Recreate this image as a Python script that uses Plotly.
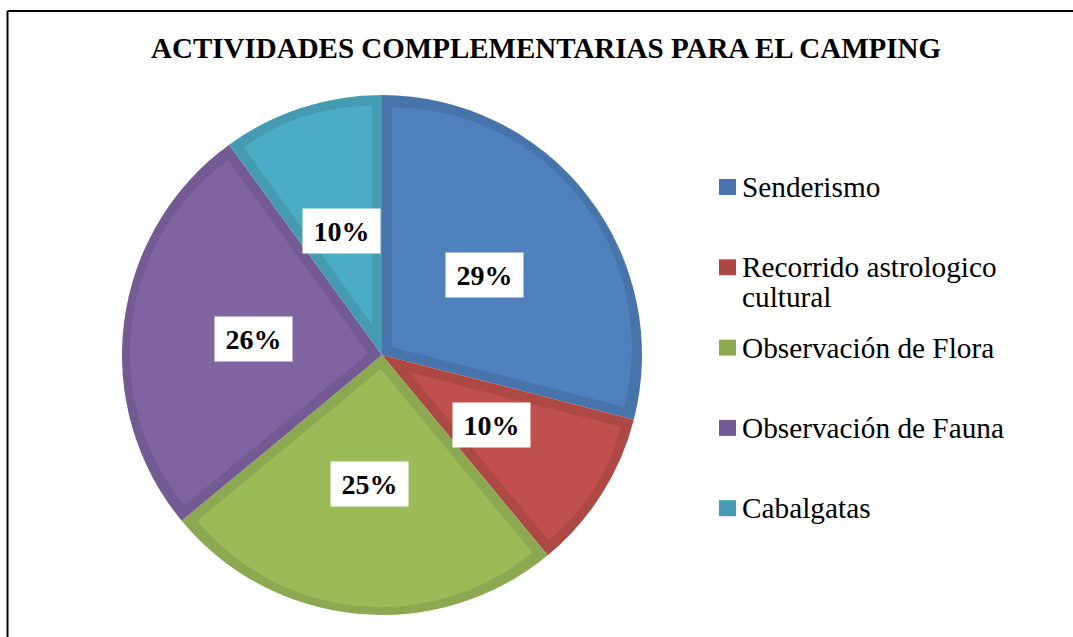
import math
import textwrap
import plotly.graph_objects as go

# data
labels = ["Senderismo", "Recorrido astrologico cultural", "Observación de Flora",
          "Observación de Fauna", "Cabalgatas"]
values = [29, 10, 25, 26, 10]
colors = ["#4F81BD", "#C0504D", "#9BBB59", "#8064A2", "#4BACC6"]
edge_colors = ["#4774AA", "#AD4845", "#8CA850", "#735A92", "#449BB2"]
title_text = "ACTIVIDADES COMPLEMENTARIAS PARA EL CAMPING"

# page geometry (pixels)
W, H = 1073, 637
CX, CY, R = 382, 355, 260
BAND = 10
FONT = "Liberation Serif, Times New Roman, serif"


def px_x(x):
    return x / W


def px_y(y):
    return 1 - y / H


def pie_domain(cx, cy, r):
    return dict(x=[px_x(cx - r), px_x(cx + r)], y=[px_y(cy + r), px_y(cy - r)])


fig = go.Figure()

# full pie in the darker edge shade
fig.add_trace(go.Pie(
    labels=labels,
    values=values,
    sort=False,
    direction="clockwise",
    rotation=0,
    marker=dict(colors=edge_colors, line=dict(width=0)),
    textinfo="none",
    hoverinfo="label+percent",
    showlegend=False,
    domain=pie_domain(CX, CY, R),
))

# lighter inner part of each slice, inset so the darker band shows round it
total = sum(values)
start = 0
annotations = []
for i, v in enumerate(values):
    a0 = start / total * 2 * math.pi
    a1 = (start + v) / total * 2 * math.pi
    half = (a1 - a0) / 2
    mid = (a0 + a1) / 2
    s = BAND / math.sin(half)
    ax = CX + s * math.sin(mid)
    ay = CY - s * math.cos(mid)
    rr = R - BAND
    d_mid = rr - s
    d_side = math.sqrt(rr ** 2 + s ** 2 - 2 * rr * s * math.cos(half))
    r_in = (d_mid + d_side) / 2
    fig.add_trace(go.Pie(
        labels=[labels[i], labels[i] + " resto"],
        values=[v, total - v],
        sort=False,
        direction="clockwise",
        rotation=math.degrees(a0),
        marker=dict(colors=[colors[i], "rgba(0,0,0,0)"], line=dict(width=0)),
        textinfo="none",
        hoverinfo="skip",
        showlegend=False,
        domain=pie_domain(ax, ay, r_in),
    ))

    # percentage label in a white box
    annotations.append(dict(
        x=px_x(CX + 0.5 * R * math.sin(mid)),
        y=px_y(CY - 0.5 * R * math.cos(mid)),
        xref="paper", yref="paper",
        text=f"<b>{v / total * 100:.0f}%</b>",
        showarrow=False,
        font=dict(family=FONT, size=28, color="black"),
        bgcolor="white",
        width=75, height=42,
        xanchor="center", yanchor="middle",
    ))
    start += v

# legend drawn by hand
shapes = []
legend_top = 187
legend_step = 80.3
for i, lab in enumerate(labels):
    yc = legend_top + i * legend_step
    shapes.append(dict(
        type="rect", xref="paper", yref="paper",
        x0=px_x(719), x1=px_x(736), y0=px_y(yc + 8), y1=px_y(yc - 8),
        fillcolor=edge_colors[i], line=dict(width=0),
    ))
    for j, line in enumerate(textwrap.wrap(lab, 22)):
        annotations.append(dict(
            x=px_x(740), y=px_y(yc + j * 30),
            xref="paper", yref="paper",
            text=line, showarrow=False,
            font=dict(family=FONT, size=29.3, color="black"),
            xanchor="left", yanchor="middle",
        ))

# title
annotations.append(dict(
    x=px_x(546), y=px_y(48), xref="paper", yref="paper",
    text=f"<b>{title_text}</b>", showarrow=False,
    font=dict(family=FONT, size=29, color="black"),
    xanchor="center", yanchor="middle",
))

# frame (top and left edges visible)
shapes.append(dict(type="line", xref="paper", yref="paper",
                   x0=px_x(7.5), x1=1, y0=px_y(11), y1=px_y(11),
                   line=dict(color="black", width=2)))
shapes.append(dict(type="line", xref="paper", yref="paper",
                   x0=px_x(7.5), x1=px_x(7.5), y0=px_y(11), y1=0,
                   line=dict(color="black", width=2)))

fig.update_layout(
    width=W,
    height=H,
    margin=dict(l=0, r=0, t=0, b=0),
    paper_bgcolor="white",
    plot_bgcolor="white",
    showlegend=False,
    annotations=annotations,
    shapes=shapes,
    font=dict(family=FONT),
)

fig.write_html("out.html", config={"displayModeBar": False},
               post_script="document.body.style.margin='0';")
